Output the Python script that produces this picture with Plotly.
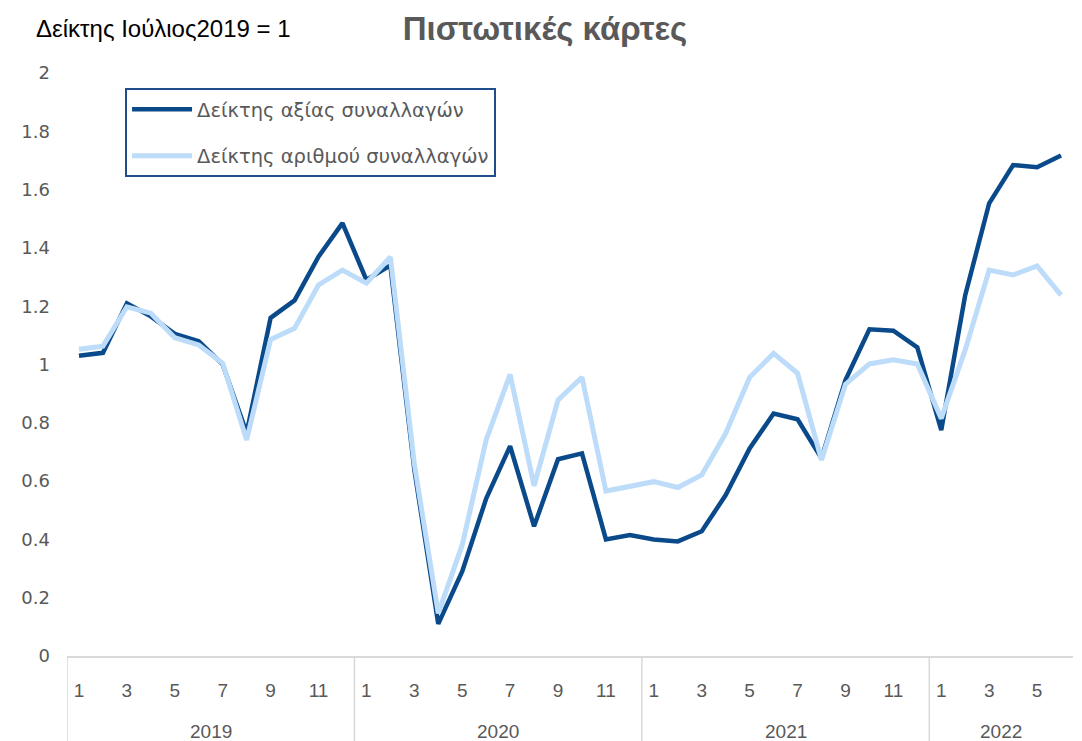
import plotly.graph_objects as go

# Δείκτης Ιούλιος 2019 = 1, μηνιαία στοιχεία 1/2019 - 6/2022
years = [2019] * 12 + [2020] * 12 + [2021] * 12 + [2022] * 6
months = list(range(1, 13)) * 3 + list(range(1, 7))

axia = [1.03, 1.04, 1.21, 1.165, 1.105, 1.08, 1.0, 0.765, 1.16, 1.22, 1.37, 1.485,
        1.29, 1.34, 0.64, 0.11, 0.29, 0.54, 0.72, 0.445, 0.675, 0.695, 0.40, 0.415,
        0.40, 0.393, 0.428, 0.552, 0.712, 0.832, 0.812, 0.678, 0.947, 1.121, 1.116, 1.059,
        0.775, 1.238, 1.553, 1.684, 1.677, 1.717]
arithmos = [1.052, 1.063, 1.198, 1.176, 1.092, 1.067, 1.004, 0.741, 1.086, 1.124, 1.273, 1.324,
            1.279, 1.369, 0.66, 0.146, 0.381, 0.741, 0.966, 0.584, 0.878, 0.956, 0.566, 0.581,
            0.598, 0.578, 0.621, 0.764, 0.956, 1.038, 0.97, 0.672, 0.932, 1.002, 1.016, 1.002,
            0.815, 1.05, 1.324, 1.307, 1.338, 1.238]

idx = list(range(1, len(months) + 1))
gray = "#595959"
x_font = dict(family="Liberation Sans", size=19, color=gray)
y_font = dict(family="DejaVu Sans", size=18, color=gray)

fig = go.Figure()
fig.add_trace(go.Scatter(x=idx, y=axia, mode="lines", name="Δείκτης αξίας συναλλαγών",
                         legendgroup="a", line=dict(color="#0a4a8a", width=4.5)))
fig.add_trace(go.Scatter(x=idx, y=arithmos, mode="lines", name="Δείκτης αριθμού συναλλαγών",
                         legendgroup="b", line=dict(color="#bcdcfa", width=5)))

odd = [i for i, m in zip(idx, months) if m % 2 == 1]
fig.update_xaxes(range=[0.5, len(idx) + 0.5], tickvals=odd,
                 ticktext=[str(months[i - 1]) for i in odd], showgrid=False,
                 showline=True, linecolor="#d9d9d9", linewidth=1.5, ticks="",
                 tickfont=x_font, ticklabelstandoff=16, zeroline=False, fixedrange=True)
fig.update_yaxes(range=[0, 2], dtick=0.2, tickformat="~g", showgrid=False, zeroline=False,
                 showline=False, tickfont=y_font, ticklabelstandoff=16, fixedrange=True)

# διαχωριστικά έτους και ετικέτες
shapes = []
annotations = []
for y in sorted(set(years)):
    pos = [i for i, yy in zip(idx, years) if yy == y]
    shapes.append(dict(type="line", xref="x", yref="paper", x0=pos[0] - 0.5, x1=pos[0] - 0.5,
                       y0=0, y1=-0.146, line=dict(color="#d9d9d9", width=1.5)))
    annotations.append(dict(x=(pos[0] + pos[-1]) / 2, y=0, xref="x", yref="paper", yshift=-75,
                            text=str(y), showarrow=False, font=x_font, yanchor="middle"))

annotations.append(dict(x=-0.033, y=1.077, xref="paper", yref="paper", text="Δείκτης Ιούλιος2019 = 1",
                        showarrow=False, xanchor="left", yanchor="middle",
                        font=dict(family="Liberation Sans", size=24, color="#000000")))

fig.update_layout(
    width=1074, height=733,
    margin=dict(l=59, r=9, t=65, b=85),
    plot_bgcolor="white", paper_bgcolor="white",
    title=dict(text="<b>Πιστωτικές κάρτες</b>", x=0.5, xanchor="center", y=0.9727, yanchor="middle",
               font=dict(family="Liberation Sans", size=33, color=gray)),
    legend=dict(x=0.0577, y=0.974, xanchor="left", yanchor="top", bordercolor="#1f4e8c", borderwidth=2,
                bgcolor="white", font=dict(family="DejaVu Sans", size=19.5, color=gray),
                itemwidth=60, tracegroupgap=18),
    shapes=shapes,
    annotations=annotations,
    showlegend=True,
)

fig.write_html("out.html")
